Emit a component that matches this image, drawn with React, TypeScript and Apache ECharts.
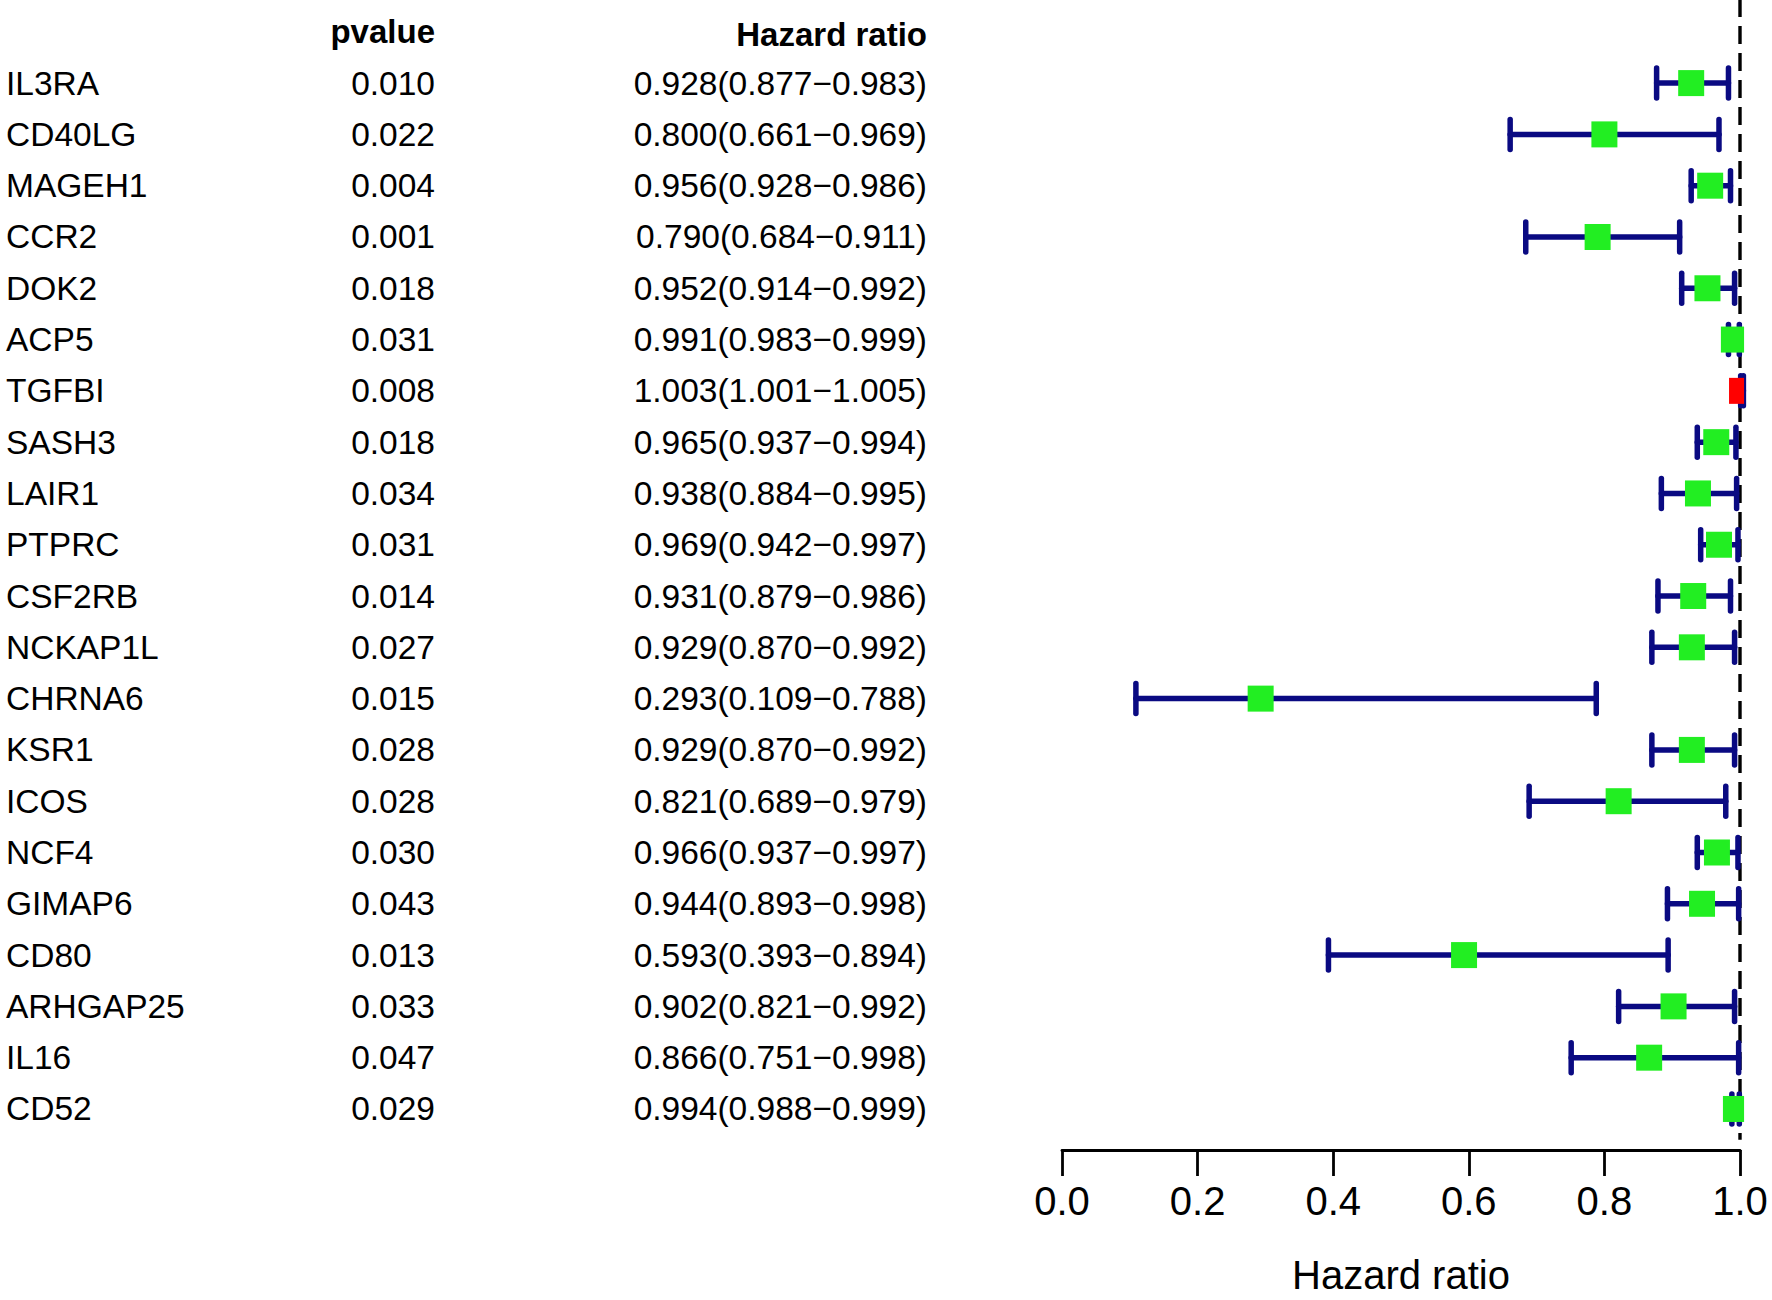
import React, { useEffect, useRef } from "react";
import * as echarts from "echarts";

const genes = ["IL3RA","CD40LG","MAGEH1","CCR2","DOK2","ACP5","TGFBI","SASH3","LAIR1","PTPRC","CSF2RB","NCKAP1L","CHRNA6","KSR1","ICOS","NCF4","GIMAP6","CD80","ARHGAP25","IL16","CD52"];
const pvalues = ["0.010","0.022","0.004","0.001","0.018","0.031","0.008","0.018","0.034","0.031","0.014","0.027","0.015","0.028","0.028","0.030","0.043","0.013","0.033","0.047","0.029"];
const hr = [0.928,0.800,0.956,0.790,0.952,0.991,1.003,0.965,0.938,0.969,0.931,0.929,0.293,0.929,0.821,0.966,0.944,0.593,0.902,0.866,0.994];
const lower = [0.877,0.661,0.928,0.684,0.914,0.983,1.001,0.937,0.884,0.942,0.879,0.870,0.109,0.870,0.689,0.937,0.893,0.393,0.821,0.751,0.988];
const upper = [0.983,0.969,0.986,0.911,0.992,0.999,1.005,0.994,0.995,0.997,0.986,0.992,0.788,0.992,0.979,0.997,0.998,0.894,0.992,0.998,0.999];
const xTicks = [0, 0.2, 0.4, 0.6, 0.8, 1.0];

const FONT = "'Liberation Sans', Arial, Helvetica, sans-serif";
const NAVY = "#0a0a82";
const GREEN = "#22ee22";
const RED = "#ff0000";

const fmt = (v: number) => v.toFixed(3);

export default function App() {
  const ref = useRef<HTMLDivElement>(null);
  useEffect(() => {
    if (!ref.current) return;
    const chart = echarts.init(ref.current, null, { renderer: "svg" });
    const rows = genes.map((_, i) => i + 1);
    const forestData = rows.map((r, i) => [r, hr[i], lower[i], upper[i]]);
    const textData = rows.map((r) => [0, r]);

    const option: any = {
      animation: false,
      backgroundColor: "#ffffff",
      grid: { left: 1062, right: 32, top: 0, bottom: 136, containLabel: false },
      xAxis: {
        type: "value",
        position: "bottom",
        min: 0,
        max: 1,
        interval: 0.2,
        splitLine: { show: false },
        axisLine: { show: true, onZero: false, lineStyle: { color: "#000", width: 2.8 } },
        axisTick: { show: true, length: 26, lineStyle: { color: "#000", width: 2.8 } },
        axisLabel: {
          show: true,
          margin: 31,
          fontSize: 40,
          fontFamily: FONT,
          color: "#000",
          formatter: (v: number) => (xTicks.some((t) => Math.abs(t - v) < 1e-9) ? v.toFixed(1) : ""),
        },
        name: "Hazard ratio",
        nameLocation: "middle",
        nameGap: 105,
        nameTextStyle: { fontSize: 40, fontFamily: FONT, color: "#000" },
      },
      yAxis: {
        type: "value",
        inverse: true,
        min: -0.62,
        max: 21.8,
        show: false,
      },
      series: [
        {
          type: "line",
          data: [[1, -0.64], [1, 21.6]],
          symbol: "none",
          clip: false,
          z: 1,
          lineStyle: { color: "#000", width: 3.4, type: [18, 9] },
        },
        {
          type: "custom",
          clip: false,
          z: 3,
          data: forestData,
          encode: { x: [1, 2, 3], y: 0 },
          renderItem: (params: any, api: any) => {
            const row = api.value(0);
            const h = api.value(1);
            const lo = api.value(2);
            const hi = api.value(3);
            const [xc, yc] = api.coord([h, row]);
            const xl = api.coord([lo, row])[0];
            const xh = api.coord([hi, row])[0];
            const xmax = api.coord([1.006, row])[0];
            const box = 26;
            const cap = 30;
            const left = xc - box / 2;
            const right = Math.min(xc + box / 2, xmax);
            const lineStyle = { stroke: NAVY, lineWidth: 5.5, lineCap: "round" };
            return {
              type: "group",
              children: [
                { type: "line", shape: { x1: xl, y1: yc, x2: xh, y2: yc }, style: lineStyle },
                { type: "line", shape: { x1: xl, y1: yc - cap / 2, x2: xl, y2: yc + cap / 2 }, style: lineStyle },
                { type: "line", shape: { x1: xh, y1: yc - cap / 2, x2: xh, y2: yc + cap / 2 }, style: lineStyle },
                {
                  type: "rect",
                  shape: { x: left, y: yc - box / 2, width: right - left, height: box },
                  style: { fill: h > 1 ? RED : GREEN },
                },
              ],
            };
          },
        },
        {
          type: "custom",
          clip: false,
          z: 4,
          data: textData,
          encode: { x: 0, y: 1 },
          renderItem: (params: any, api: any) => {
            const i = params.dataIndex;
            const yc = api.coord([0, api.value(1)])[1];
            const base = { fontSize: 33.5, fontFamily: FONT, fill: "#000", verticalAlign: "middle" };
            return {
              type: "group",
              children: [
                { type: "text", style: { ...base, text: genes[i], x: 6, y: yc, align: "left" } },
                { type: "text", style: { ...base, text: pvalues[i], x: 435, y: yc, align: "right" } },
                {
                  type: "text",
                  style: {
                    ...base,
                    text: `${fmt(hr[i])}(${fmt(lower[i])}\u2212${fmt(upper[i])})`,
                    x: 927,
                    y: yc,
                    align: "right",
                  },
                },
              ],
            };
          },
        },
        {
          type: "custom",
          clip: false,
          z: 4,
          data: [[0, 0]],
          encode: { x: 0, y: 1 },
          renderItem: (params: any, api: any) => {
            const yc = api.coord([0, 0])[1];
            const base = { fontSize: 33, fontWeight: "bold", fontFamily: FONT, fill: "#000", verticalAlign: "middle" };
            return {
              type: "group",
              children: [
                { type: "text", style: { ...base, text: "pvalue", x: 435, y: yc, align: "right" } },
                { type: "text", style: { ...base, text: "Hazard ratio", x: 927, y: yc + 3, align: "right" } },
              ],
            };
          },
        },
      ],
    };
    chart.setOption(option);
    return () => chart.dispose();
  }, []);
  return (
    <div
      ref={ref}
      style={{ position: "absolute", left: 0, top: 0, width: 1772, height: 1300, background: "#fff" }}
    />
  );
}
